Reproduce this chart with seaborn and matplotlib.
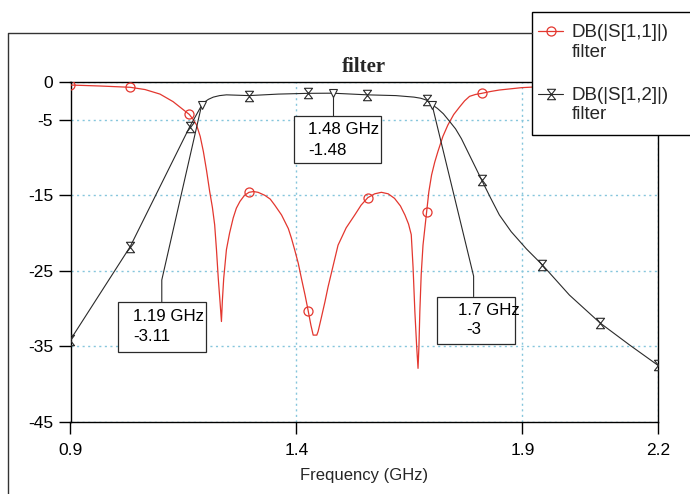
import numpy as np
import seaborn as sns
import matplotlib
matplotlib.use("Agg")
import matplotlib.pyplot as plt
from matplotlib.lines import Line2D
from matplotlib.patches import Rectangle, Shadow
from matplotlib.path import Path
from matplotlib.legend_handler import HandlerLine2D

# ---- data: filter S-parameters (dB) vs frequency (GHz) ----
s11_freq = [0.900, 0.965, 1.032, 1.065, 1.098, 1.127, 1.146, 1.163, 1.172, 1.179,
            1.187, 1.194, 1.201, 1.208, 1.214, 1.219, 1.223, 1.227, 1.231, 1.234,
            1.236, 1.239, 1.245, 1.252, 1.260, 1.267, 1.275, 1.285, 1.295, 1.305,
            1.315, 1.330, 1.342, 1.352, 1.367, 1.382, 1.389, 1.396, 1.404, 1.411,
            1.419, 1.426, 1.432, 1.437, 1.445, 1.448, 1.455, 1.463, 1.470, 1.478,
            1.492, 1.510, 1.529, 1.543, 1.558, 1.573, 1.588, 1.603, 1.617, 1.630,
            1.640, 1.648, 1.654, 1.658, 1.662, 1.666, 1.669, 1.671, 1.673, 1.676,
            1.680, 1.688, 1.693, 1.699, 1.706, 1.713, 1.724, 1.735, 1.748, 1.761,
            1.772, 1.783, 1.796, 1.810, 1.830, 1.849, 1.898, 1.940, 2.000, 2.070,
            2.130, 2.200]
s11_db = [-0.4, -0.53, -0.7, -1.0, -1.6, -2.6, -3.5, -4.3, -5.0, -5.7,
          -7.2, -9.2, -11.7, -14.5, -16.6, -18.9, -22.2, -26.0, -29.2, -31.7,
          -29.0, -26.0, -22.2, -20.0, -18.0, -16.7, -15.8, -15.0, -14.6, -14.5,
          -14.6, -15.0, -15.5, -16.3, -17.6, -19.4, -20.7, -22.2, -24.0, -26.0,
          -28.2, -30.3, -32.2, -33.5, -33.5, -33.0, -31.2, -29.1, -27.1, -25.1,
          -21.6, -19.3, -17.6, -16.3, -15.3, -14.8, -14.6, -14.8, -15.4, -16.4,
          -17.6, -18.8, -20.2, -24.5, -30.4, -35.0, -37.9, -35.0, -30.4, -25.5,
          -21.6, -17.2, -14.5, -12.3, -10.6, -9.2, -7.2, -5.7, -4.3, -3.3,
          -2.5, -1.9, -1.65, -1.5, -1.25, -1.06, -0.75, -0.62, -0.5, -0.42,
          -0.38, -0.35]
s11_marker_freq = [0.900, 1.032, 1.163, 1.295, 1.426, 1.558, 1.688, 1.810, 1.940, 2.070, 2.200]

s12_freq = [0.900, 1.032, 1.164, 1.190, 1.198, 1.205, 1.216, 1.230, 1.245, 1.295,
            1.360, 1.426, 1.480, 1.557, 1.620, 1.660, 1.675, 1.688, 1.700, 1.712,
            1.725, 1.740, 1.752, 1.765, 1.783, 1.797, 1.810, 1.830, 1.849, 1.875,
            1.909, 1.944, 2.004, 2.072, 2.137, 2.200]
s12_db = [-34.1, -21.8, -5.9, -3.11, -2.6, -2.3, -2.0, -1.8, -1.7, -1.8,
          -1.6, -1.5, -1.48, -1.7, -1.8, -2.0, -2.15, -2.4, -3.0, -3.5,
          -4.2, -5.3, -6.2, -7.5, -9.7, -11.4, -13.0, -15.4, -17.6, -19.8,
          -22.1, -24.2, -28.2, -31.9, -34.8, -37.5]
s12_marker_freq = [0.900, 1.032, 1.164, 1.295, 1.426, 1.557, 1.688, 1.810, 1.944, 2.072, 2.200]

# readout markers on S12
mark_freq = [1.19, 1.48, 1.70]
mark_db = [-3.11, -1.48, -3.0]

series_names = ["DB(|S[1,1]|)\nfilter", "DB(|S[1,2]|)\nfilter"]
x_ticks = [0.9, 1.4, 1.9, 2.2]
x_tick_labels = ["0.9", "1.4", "1.9", "2.2"]
y_ticks = [0, -5, -15, -25, -35, -45]

# ---- style ----
sns.set_theme(style="white")
plt.rcParams["font.family"] = ["Liberation Sans", "DejaVu Sans"]
plt.rcParams["axes.unicode_minus"] = False

RED = "#e3372f"
DARK = "#2a2a2a"
GRID = "#86c6dc"

hourglass = Path([(-0.78, 1), (0.78, 1), (-0.78, -1), (0.78, -1), (-0.78, 1)],
                 [Path.MOVETO, Path.LINETO, Path.LINETO, Path.LINETO, Path.CLOSEPOLY])

W, H = 690, 494
fig = plt.figure(figsize=(W / 100, H / 100), dpi=100, facecolor="white")
ax = fig.add_axes([70.5 / W, 1 - 422 / H, (658 - 70.5) / W, (422 - 82) / H])

# S11 curve
sns.lineplot(x=s11_freq, y=s11_db, ax=ax, color=RED, lw=0.9, sort=False,
             marker="o", markevery=[s11_freq.index(f) for f in s11_marker_freq],
             ms=6.5, mfc="none", mec=RED, mew=0.9, zorder=3)
# S12 curve
sns.lineplot(x=s12_freq, y=s12_db, ax=ax, color=DARK, lw=0.8, sort=False,
             marker=hourglass, markevery=[s12_freq.index(f) for f in s12_marker_freq],
             ms=7.5, mfc="none", mec=DARK, mew=0.8, zorder=3)
# readout triangles
ax.plot(mark_freq, mark_db, ls="none", marker="v", ms=6, mfc="white",
        mec=DARK, mew=0.8, zorder=4)

ax.set_xlim(0.9, 2.2)
ax.set_ylim(-45, 0)
ax.set_xticks(x_ticks)
ax.set_xticklabels(x_tick_labels)
ax.set_yticks(y_ticks)
ax.tick_params(axis="both", which="major", direction="out", length=8.5, width=1,
               color="black", labelsize=12.5, labelcolor="black",
               left=True, bottom=True, top=False, right=False)
ax.tick_params(axis="y", pad=4)
ax.tick_params(axis="x", pad=6.5)
for sp in ax.spines.values():
    sp.set_visible(True)
    sp.set_color("black")
    sp.set_linewidth(1.0)

ax.grid(True, color=GRID, linestyle=(0, (1.5, 2.5)), linewidth=1.0)
ax.set_axisbelow(True)

ax.set_title("filter", fontfamily="Liberation Serif", fontweight="bold",
             fontsize=15, pad=7)
ax.set_xlabel("Frequency (GHz)", fontsize=12, labelpad=7)
ax.set_ylabel("")

# ---- readout boxes ----
box_layout = [
    dict(box=(1.006, 1.199, -29.16, -35.7), t1=(1.039, -31.06), t2=(1.039, -33.7),
         lead=[(1.102, -26.2), (1.102, -29.16)]),
    dict(box=(1.395, 1.586, -4.46, -10.76), t1=(1.425, -6.35), t2=(1.425, -9.0),
         lead=[(1.48, -4.46)]),
    dict(box=(1.712, 1.883, -28.4, -34.7), t1=(1.757, -30.2), t2=(1.776, -32.8),
         lead=[(1.792, -25.7), (1.792, -28.4)]),
]
for f, db, lay in zip(mark_freq, mark_db, box_layout):
    x0, x1, yt, yb = lay["box"]
    rect = Rectangle((x0, yb), x1 - x0, yt - yb, facecolor="white",
                     edgecolor=DARK, lw=0.9, zorder=5)
    shadow = Shadow(rect, 2, -2, facecolor="0.45", edgecolor="none", alpha=1)
    shadow.set_zorder(4.9)
    ax.add_patch(shadow)
    ax.add_patch(rect)
    pts = [(f, db)] + lay["lead"]
    ax.plot([p[0] for p in pts], [p[1] for p in pts], color=DARK, lw=0.8, zorder=3.5)
    ax.text(*lay["t1"], f"{f:g} GHz", fontsize=12.2, va="center", ha="left",
            color="black", zorder=6)
    ax.text(*lay["t2"], f"{db:g}", fontsize=12.2, va="center", ha="left",
            color="black", zorder=6)


# ---- legend ----
class FirstLineHandler(HandlerLine2D):
    """Place the legend handle level with the first line of a two-line label."""
    def create_artists(self, legend, orig_handle, xdescent, ydescent, width,
                       height, fontsize, trans):
        arts = super().create_artists(legend, orig_handle, xdescent, ydescent,
                                      width, height, fontsize, trans)
        for a in arts:
            a.set_ydata(np.asarray(a.get_ydata()) + 0.6 * fontsize)
        return arts


# legend frame (runs past the right edge of the figure)
frame = Rectangle((531.7 / W, 1 - 135 / H), (720 - 531.7) / W, (135 - 11.7) / H,
                  transform=fig.transFigure, facecolor="white", edgecolor="black",
                  lw=1.0, zorder=2)
frame_shadow = Shadow(frame, 2, -2, facecolor="0.45", edgecolor="none", alpha=1)
frame_shadow.set_zorder(1.9)
fig.add_artist(frame_shadow)
fig.add_artist(frame)

h11 = Line2D([], [], color=RED, lw=0.9, marker="o", ms=6.5, mfc="none", mec=RED, mew=0.9)
h12 = Line2D([], [], color=DARK, lw=0.8, marker=hourglass, ms=7.5, mfc="none", mec=DARK, mew=0.8)
leg = fig.legend([h11, h12], series_names, loc="upper left",
                 bbox_to_anchor=(538 / W, 1 - 24 / H), borderaxespad=0,
                 fontsize=13.5, borderpad=0, handlelength=1.35,
                 handletextpad=0.45, labelspacing=1.4, numpoints=1,
                 frameon=False,
                 handler_map={h11: FirstLineHandler(numpoints=1),
                              h12: FirstLineHandler(numpoints=1)})
leg.set_zorder(5)

# outer frame around the chart
fig.add_artist(Line2D([8 / W, 8 / W, 531.7 / W], [0, 1 - 33 / H, 1 - 33 / H],
                      transform=fig.transFigure, color="#333333", lw=1.0))

fig.savefig("out.png", dpi=100, facecolor="white")
